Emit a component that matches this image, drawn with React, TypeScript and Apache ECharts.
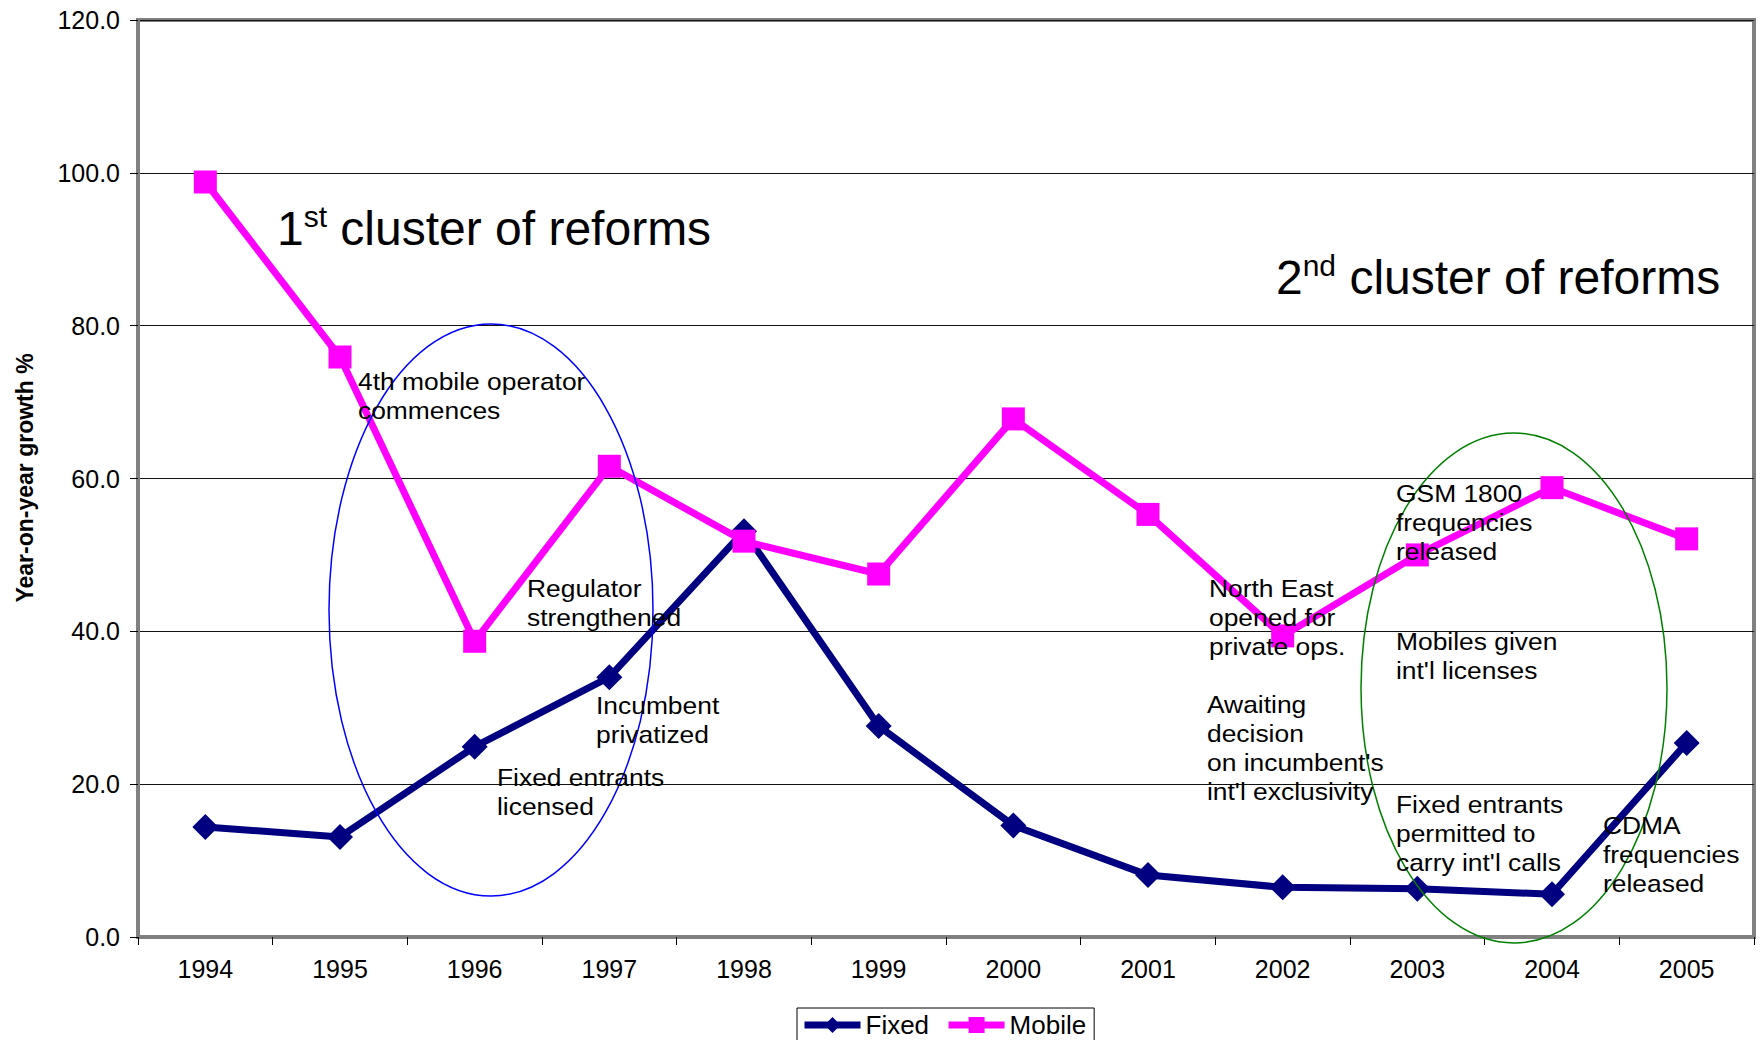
import React, { useEffect, useRef } from "react";
import * as echarts from "echarts";

const years = ["1994", "1995", "1996", "1997", "1998", "1999", "2000", "2001", "2002", "2003", "2004", "2005"];
const fixedGrowth = [14.4, 13.1, 24.9, 34.0, 53.1, 27.6, 14.6, 8.1, 6.5, 6.3, 5.6, 25.4];
const mobileGrowth = [98.8, 75.9, 38.7, 61.6, 51.8, 47.5, 67.8, 55.3, 39.4, 50.0, 58.8, 52.1];
const yMin = 0;
const yMax = 120;
const yStep = 20;

const seriesNames = ["Fixed", "Mobile"];
const yAxisTitle = "Year-on-year growth %";

const notes: { text: string; x: number; y: number }[] = [
  { text: "4th mobile operator\ncommences", x: 358, y: 381 },
  { text: "Regulator\nstrengthened", x: 527, y: 588 },
  { text: "Incumbent\nprivatized", x: 596, y: 705 },
  { text: "Fixed entrants\nlicensed", x: 497, y: 777 },
  { text: "North East\nopened for\nprivate ops.", x: 1209, y: 588 },
  { text: "Awaiting\ndecision\non incumbent's\nint'l exclusivity", x: 1207, y: 704 },
  { text: "GSM 1800\nfrequencies\nreleased", x: 1396, y: 493 },
  { text: "Mobiles given\nint'l licenses", x: 1396, y: 641 },
  { text: "Fixed entrants\npermitted to\ncarry int'l calls", x: 1396, y: 804 },
  { text: "CDMA\nfrequencies\nreleased", x: 1603, y: 825 },
];

const FONT = "'Liberation Sans', Arial, Helvetica, sans-serif";

export default function App() {
  const ref = useRef<HTMLDivElement>(null);

  useEffect(() => {
    if (!ref.current) return;
    const chart = echarts.init(ref.current, undefined, { renderer: "svg" });
    const LH = 29;
    const noteEls = notes.map((n) => ({
      type: "text",
      x: n.x,
      y: n.y - LH / 2,
      scaleX: 1.1,
      z: 100,
      style: {
        text: n.text,
        fontSize: 24,
        fontFamily: FONT,
        fill: "#000",
        lineHeight: LH,
        align: "left",
        verticalAlign: "top",
      },
    }));

    const clusterRich = {
      big: { fontSize: 48, fontFamily: FONT, color: "#000", lineHeight: 56 },
      sup: { fontSize: 30, fontFamily: FONT, color: "#000", verticalAlign: "top", padding: [1, 0, 0, 0] },
    };

    chart.setOption({
      animation: false,
      backgroundColor: "#fff",
      textStyle: { fontFamily: FONT },
      grid: {
        left: 138,
        top: 20,
        right: 7,
        bottom: 103,
        show: true,
        borderColor: "#808080",
        borderWidth: 4,
        backgroundColor: "#fff",
      },
      legend: {
        data: seriesNames,
        left: 797,
        top: 1008,
        orient: "horizontal",
        itemWidth: 56,
        itemHeight: 20,
        itemGap: 16,
        padding: [4, 8, 12, 4],
        borderColor: "#000",
        borderWidth: 1,
        lineStyle: { width: 7 },
        textStyle: { fontSize: 26, color: "#000", fontFamily: FONT },
      },
      xAxis: {
        type: "category",
        data: years,
        boundaryGap: true,
        axisLine: { show: true, lineStyle: { color: "#808080", width: 4 } },
        axisTick: { show: true, length: 8, lineStyle: { color: "#000", width: 1 } },
        axisLabel: { fontSize: 25, color: "#000", margin: 19, fontFamily: FONT },
        splitLine: { show: false },
      },
      yAxis: {
        type: "value",
        min: yMin,
        max: yMax,
        interval: yStep,
        axisLine: { show: true, lineStyle: { color: "#808080", width: 4 } },
        axisTick: { show: true, length: 8, lineStyle: { color: "#000", width: 1 } },
        axisLabel: {
          fontSize: 25,
          color: "#000",
          margin: 18,
          fontFamily: FONT,
          formatter: (v: number) => v.toFixed(1),
        },
        splitLine: { show: true, lineStyle: { color: "#111", width: 1 } },
      },
      series: [
        {
          name: seriesNames[0],
          type: "line",
          data: fixedGrowth,
          symbol: "diamond",
          symbolSize: 26,
          lineStyle: { color: "#000080", width: 7 },
          itemStyle: { color: "#000080" },
          z: 2,
        },
        {
          name: seriesNames[1],
          type: "line",
          data: mobileGrowth,
          symbol: "rect",
          symbolSize: 23,
          lineStyle: { color: "#FF00FF", width: 7 },
          itemStyle: { color: "#FF00FF" },
          z: 3,
        },
      ],
      graphic: [
        {
          type: "text",
          x: 25,
          y: 478,
          rotation: Math.PI / 2,
          z: 100,
          style: {
            text: yAxisTitle,
            fontSize: 23,
            fontWeight: "bold",
            fontFamily: FONT,
            fill: "#000",
            align: "center",
            verticalAlign: "middle",
          },
        },
        {
          type: "ellipse",
          z: 100,
          shape: { cx: 491, cy: 610, rx: 162, ry: 286 },
          style: { fill: "none", stroke: "#0000FF", lineWidth: 1.5 },
        },
        {
          type: "ellipse",
          z: 100,
          shape: { cx: 1514, cy: 688, rx: 153, ry: 255 },
          style: { fill: "none", stroke: "#008000", lineWidth: 1.5 },
        },
        {
          type: "text",
          x: 277,
          y: 228,
          z: 100,
          style: {
            text: "{big|1}{sup|st}{big| cluster of reforms}",
            rich: clusterRich,
            align: "left",
            verticalAlign: "middle",
          },
        },
        {
          type: "text",
          x: 1276,
          y: 277,
          z: 100,
          style: {
            text: "{big|2}{sup|nd}{big| cluster of reforms}",
            rich: clusterRich,
            align: "left",
            verticalAlign: "middle",
          },
        },
        ...noteEls,
      ],
    });

    return () => chart.dispose();
  }, []);

  return (
    <div
      ref={ref}
      style={{ position: "fixed", left: 0, top: 0, width: 1761, height: 1040, background: "#fff" }}
    />
  );
}
